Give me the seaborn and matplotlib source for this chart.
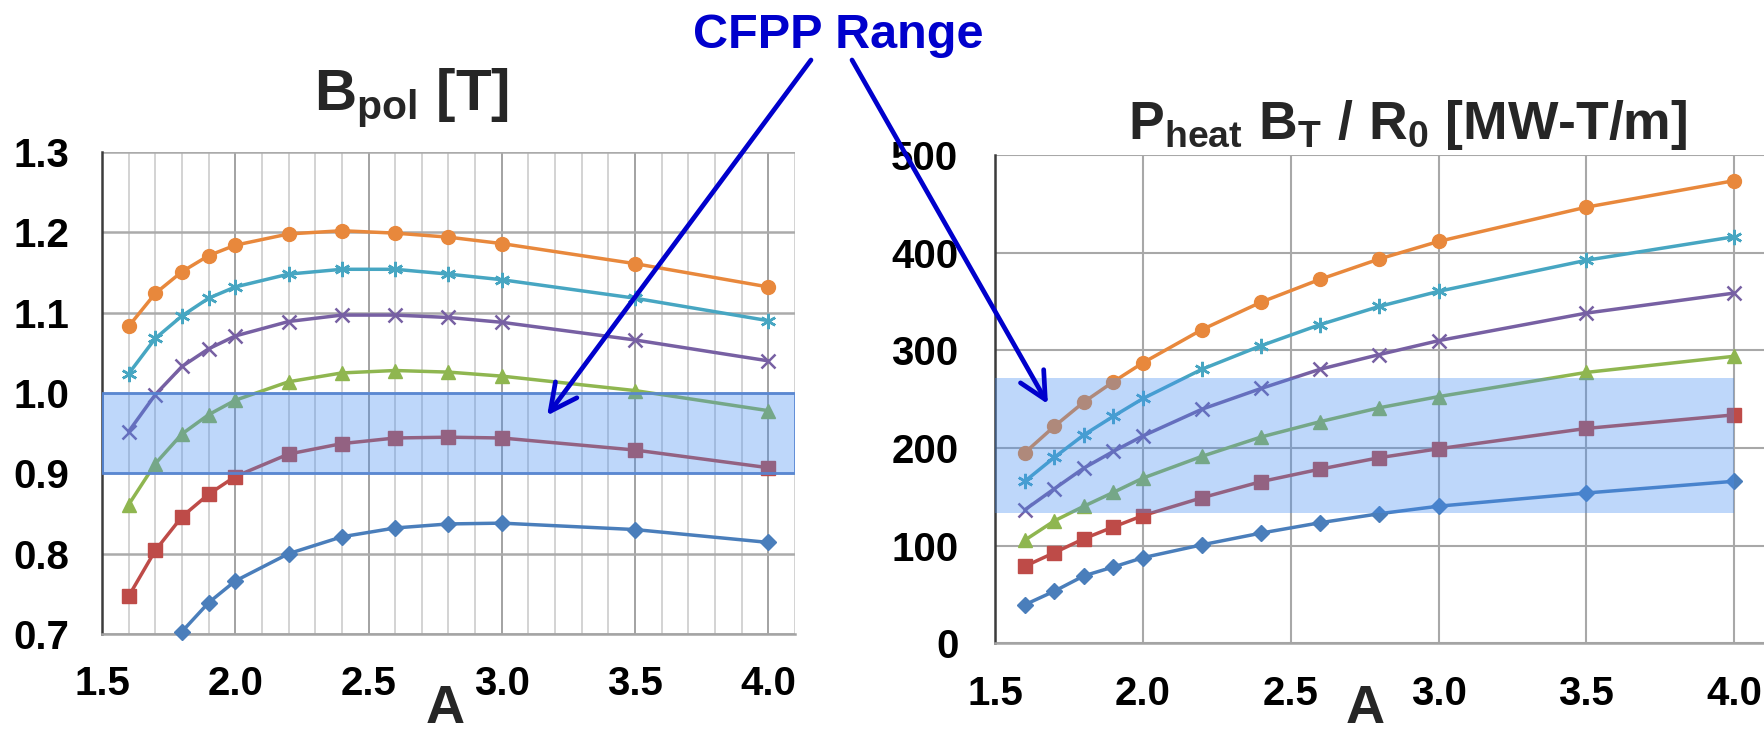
import numpy as np
import matplotlib
matplotlib.use("Agg")
import matplotlib.pyplot as plt
from matplotlib import font_manager
import seaborn as sns
from matplotlib.ticker import MultipleLocator, FixedLocator, FuncFormatter

# ---------------- data ----------------
A = [1.6, 1.7, 1.8, 1.9, 2.0, 2.2, 2.4, 2.6, 2.8, 3.0, 3.5, 4.0]

nan = np.nan
bpol_blue   = [nan, nan, 0.703, 0.739, 0.766, 0.800, 0.821, 0.832, 0.837, 0.838, 0.830, 0.814]
bpol_red    = [0.747, 0.804, 0.846, 0.874, 0.896, 0.924, 0.937, 0.944, 0.945, 0.944, 0.929, 0.907]
bpol_green  = [0.861, 0.912, 0.949, 0.973, 0.991, 1.014, 1.025, 1.028, 1.026, 1.021, 1.003, 0.978]
bpol_purple = [0.952, 0.998, 1.033, 1.055, 1.071, 1.089, 1.097, 1.097, 1.094, 1.088, 1.066, 1.040]
bpol_teal   = [1.024, 1.068, 1.096, 1.118, 1.132, 1.148, 1.154, 1.154, 1.148, 1.141, 1.118, 1.090]
bpol_orange = [1.083, 1.124, 1.151, 1.171, 1.184, 1.198, 1.202, 1.199, 1.194, 1.186, 1.161, 1.132]

pbr_blue   = [39.5, 53.4, 69.1, 78.2, 87.7, 100.9, 112.9, 123.5, 132.7, 140.4, 153.9, 165.9]
pbr_red    = [78.9, 92.8, 107.1, 119.2, 130.8, 149.1, 165.6, 178.4, 190.1, 199.2, 220.0, 233.9]
pbr_green  = [105.6, 125.4, 140.4, 154.6, 169.2, 191.5, 211.3, 227.0, 241.2, 252.6, 277.4, 293.9]
pbr_purple = [136.7, 158.3, 179.5, 196.6, 212.4, 239.8, 261.0, 280.7, 295.7, 309.9, 338.1, 358.6]
pbr_teal   = [165.9, 190.4, 213.5, 232.5, 250.7, 280.7, 304.8, 326.4, 345.0, 360.4, 392.2, 416.3]
pbr_orange = [195.2, 222.2, 247.1, 267.9, 287.3, 321.3, 349.4, 372.8, 393.6, 411.5, 446.6, 473.7]

bpol_range = [0.9, 1.0]
pbr_range = [133, 272]
pbr_range_x = [1.5, 4.0]

x_ticks = [1.5, 2.0, 2.5, 3.0, 3.5, 4.0]
bpol_ticks = [0.7, 0.8, 0.9, 1.0, 1.1, 1.2, 1.3]
pbr_ticks = [0, 100, 200, 300, 400, 500]

# ---------------- style ----------------
sns.set_style("white")
plt.rcParams["font.family"] = ["Liberation Sans", "DejaVu Sans"]
plt.rcParams["font.weight"] = "bold"


def has_font(name):
    try:
        font_manager.findfont(font_manager.FontProperties(family=name, weight="bold"),
                              fallback_to_default=False)
        return True
    except Exception:
        return False


NARROW = has_font("Liberation Sans Narrow")
if NARROW:
    big_family = ["Liberation Sans Narrow", "Liberation Sans", "DejaVu Sans"]
    math_font = "Liberation Sans Narrow:bold"
    t1_size, t2_size, a_size = 45, 45, 40
else:
    big_family = ["Liberation Sans", "DejaVu Sans"]
    math_font = "Liberation Sans:bold"
    t1_size, t2_size, a_size = 42, 38.5, 39

plt.rcParams["mathtext.fontset"] = "custom"
plt.rcParams["mathtext.rm"] = math_font
plt.rcParams["mathtext.it"] = math_font
plt.rcParams["mathtext.bf"] = math_font

colors = {
    "blue": "#4A7EBB", "red": "#BE4B48", "green": "#8FB650",
    "purple": "#7760A3", "teal": "#47A6C2", "orange": "#E8883C",
}
markers = {
    "blue": "D", "red": "s", "green": "^",
    "purple": "x", "teal": (6, 2, 0), "orange": "o",
}
msizes = {"blue": 8, "red": 9.5, "green": 10, "purple": 10, "teal": 11, "orange": 10}

band_face = (69 / 255, 141 / 255, 241 / 255, 0.35)
band_edge = (0.33, 0.52, 0.84, 0.9)
BLUE_TXT = "#0000CC"

W, H = 1765, 734
fig = plt.figure(figsize=(W / 100, H / 100), dpi=100)

ax1 = fig.add_axes([102 / W, 1 - 634 / H, 693 / W, 482 / H])
ax2 = fig.add_axes([995.3 / W, 1 - 643.3 / H, 768.3 / W, 488.3 / H])


def draw_series(ax, data):
    for name, vals in data:
        c = colors[name]
        mk = markers[name]
        filled = name not in ("purple", "teal")
        sns.lineplot(x=A, y=vals, ax=ax, color=c, lw=2.5, marker=mk,
                     markersize=msizes[name], markeredgecolor=c,
                     markerfacecolor=c if filled else "none",
                     markeredgewidth=1.0 if filled else 1.8,
                     estimator=None, sort=False, legend=False, zorder=3,
                     clip_on=False)


draw_series(ax1, [("blue", bpol_blue), ("red", bpol_red), ("green", bpol_green),
                  ("purple", bpol_purple), ("teal", bpol_teal), ("orange", bpol_orange)])
draw_series(ax2, [("blue", pbr_blue), ("red", pbr_red), ("green", pbr_green),
                  ("purple", pbr_purple), ("teal", pbr_teal), ("orange", pbr_orange)])

# bands (drawn on top, translucent)
ax1.axhspan(bpol_range[0], bpol_range[1], facecolor=band_face, edgecolor=band_edge,
            lw=2.0, zorder=5)
ax2.fill_between(pbr_range_x, pbr_range[0], pbr_range[1], facecolor=band_face,
                 lw=0, zorder=5)

fmt1 = FuncFormatter(lambda v, p: f"{v:.1f}")
for ax in (ax1, ax2):
    ax.set_xlim(1.5, 4.1)
    ax.set_xticks(x_ticks)
    ax.xaxis.set_major_formatter(fmt1)
    ax.set_xlabel("")
    ax.set_ylabel("")
    ax.spines["top"].set_visible(False)
    ax.spines["right"].set_visible(False)
    ax.spines["left"].set_color("#3c3c3c")
    ax.spines["left"].set_linewidth(1.8)
    ax.spines["bottom"].set_color("#a4a4a4")
    ax.spines["bottom"].set_linewidth(1.8)
    ax.set_axisbelow(True)
    ax.tick_params(axis="x", which="major", direction="out", length=8.6, width=1.3,
                   color="#a0a0a0", pad=14, labelsize=29, labelcolor="black")
    ax.tick_params(axis="x", which="minor", length=0)
    ax.tick_params(axis="y", which="major", direction="out", length=8.6, width=1.5,
                   color="#3c3c3c", labelsize=29, labelcolor="black")
    ax.tick_params(axis="y", which="minor", direction="in", length=6.5, width=1.4,
                   color="#3c3c3c")
    ax.set_facecolor("white")

# left axes
ax1.set_ylim(0.7, 1.3)
ax1.set_yticks(bpol_ticks)
ax1.yaxis.set_major_formatter(fmt1)
ax1.yaxis.set_minor_locator(FixedLocator(np.arange(70, 131, 2) / 100))
ax1.xaxis.set_minor_locator(FixedLocator(np.arange(16, 42) / 10))
ax1.tick_params(axis="y", which="major", pad=15)
ax1.grid(which="major", axis="y", color="#ababab", lw=1.8)
ax1.grid(which="major", axis="x", color="#a2a2a2", lw=1.4)
ax1.grid(which="minor", axis="x", color="#d0d0d0", lw=1.3)

# right axes
ax2.set_ylim(0, 500)
ax2.set_yticks(pbr_ticks)
ax2.yaxis.set_minor_locator(MultipleLocator(20))
ax2.tick_params(axis="y", which="major", pad=18)
ax2.grid(which="major", axis="both", color="#a8a8a8", lw=1.5)

# titles and labels
fig.text(411 / W, 1 - 110 / H, r"$\mathrm{B_{pol}}$ [T]", ha="center", va="baseline",
         fontsize=t1_size, fontweight="bold", family=big_family)
fig.text(1408 / W, 1 - 139 / H, r"$\mathrm{P_{heat}\ B_{T}\ /\ R_{0}}$ [MW-T/m]",
         ha="center", va="baseline", fontsize=t2_size, fontweight="bold",
         family=big_family)
fig.text(838 / W, 1 - 48 / H, "CFPP Range", ha="center", va="baseline",
         fontsize=35, fontweight="bold", color=BLUE_TXT)
fig.text(445 / W, 0.0, "A", ha="center", va="bottom", fontsize=a_size,
         fontweight="bold", family=big_family)
fig.text(1365 / W, 0.0, "A", ha="center", va="bottom", fontsize=a_size,
         fontweight="bold", family=big_family)

# arrows
arrow_kw = dict(arrowstyle="->,head_length=0.8,head_width=0.4", color=BLUE_TXT,
                lw=3.4, mutation_scale=24, shrinkA=0, shrinkB=0)
ax1.annotate("", xy=(3.17, 0.972), xycoords="data",
             xytext=(811 / W, 1 - 60 / H), textcoords="figure fraction",
             arrowprops=arrow_kw, annotation_clip=False, zorder=10)
ax2.annotate("", xy=(1.678, 245), xycoords="data",
             xytext=(852 / W, 1 - 60 / H), textcoords="figure fraction",
             arrowprops=arrow_kw, annotation_clip=False, zorder=10)

fig.savefig("out.png", dpi=100, facecolor="white")
